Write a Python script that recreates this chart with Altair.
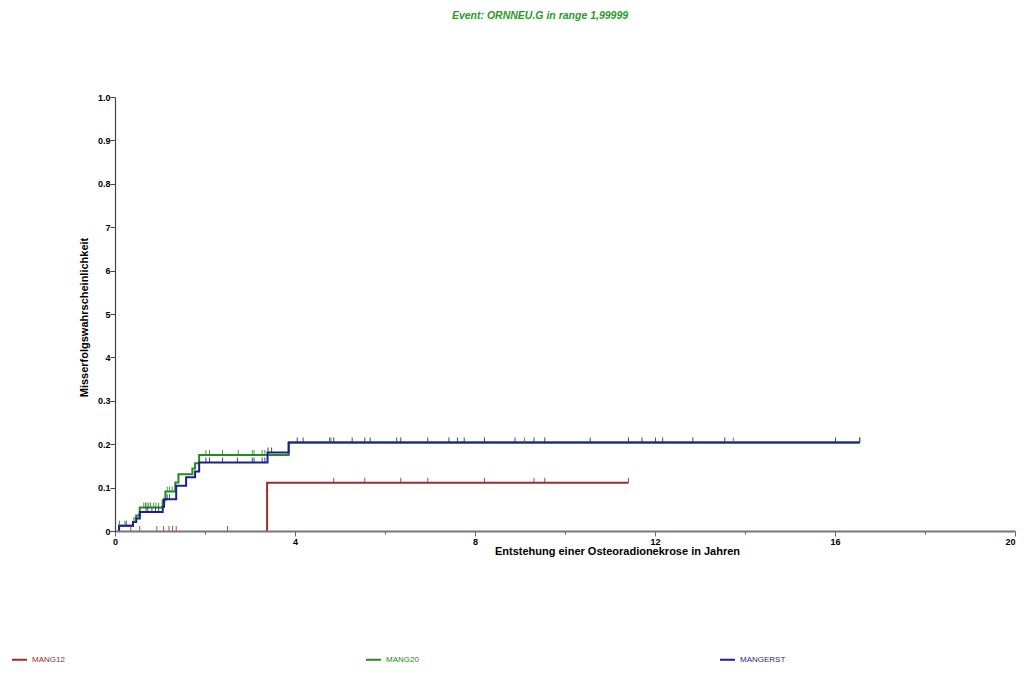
import altair as alt
import pandas as pd

series = ["MANG12", "MANG20", "MANGERST"]
colors = ["#a12b2b", "#228b22", "#1f1f8f"]

# step curves (time in years, cumulative failure probability)
red_t = [0, 3.38, 11.41]
red_p = [0, 0.111, 0.111]

green_t = [0, 0.09, 0.40, 0.47, 0.55, 1.06, 1.12, 1.34, 1.41, 1.72, 1.78, 1.87, 3.86, 16.55]
green_p = [0, 0.012, 0.021, 0.036, 0.054, 0.071, 0.091, 0.112, 0.131, 0.144, 0.156, 0.175, 0.204, 0.204]

blue_t = [0, 0.09, 0.40, 0.47, 0.55, 1.06, 1.09, 1.36, 1.58, 1.78, 1.87, 3.39, 3.86, 16.55]
blue_p = [0, 0.012, 0.021, 0.029, 0.044, 0.056, 0.073, 0.104, 0.124, 0.137, 0.158, 0.181, 0.204, 0.204]

# censoring times
red_cens = [0.35, 0.55, 0.93, 1.08, 1.20, 1.28, 1.36, 2.50, 4.86, 5.55, 6.35, 6.95, 8.21, 9.31, 9.55, 11.41]
green_cens = [0.10, 0.22, 0.42, 0.45, 0.64, 0.68, 0.71, 0.75, 0.79, 0.86, 0.91, 0.97, 1.16, 1.21, 1.27,
              2.02, 2.10, 2.39, 2.74, 3.05, 3.09, 3.27, 3.33, 4.80, 9.10, 13.74, 16.55]
blue_cens = [0.25, 0.69, 0.73, 0.82, 0.90, 0.97, 1.16, 1.21, 2.02, 2.10, 2.39, 2.72, 3.05, 3.09, 3.27, 3.33,
             3.40, 3.48, 4.05, 4.18, 4.77, 4.86, 5.27, 5.55, 5.67, 6.26, 6.35, 6.95, 7.42, 7.61, 7.76, 8.21,
             8.89, 9.31, 9.55, 10.56, 11.41, 11.71, 12.01, 12.17, 12.84, 13.55, 16.01, 16.55]

x_ticks = [0, 2, 4, 6, 8, 10, 12, 14, 16, 18, 20]
x_labels = ["0", "", "4", "", "8", "", "12", "", "16", "", "20"]
y_ticks = [round(i * 0.05, 2) for i in range(21)]
y_labels = ["0", "", "0.1", "", "0.2", "", "0.3", "", "4", "", "5", "", "6", "", "7", "", "0.8", "", "0.9", "", "1.0"]

curves = {"MANG12": (red_t, red_p, red_cens),
          "MANG20": (green_t, green_p, green_cens),
          "MANGERST": (blue_t, blue_p, blue_cens)}

line_rows, cens_rows = [], []
for name, (ts, ps, cs) in curves.items():
    # the zero part of each curve lies on the x axis; the drawn line starts at the first event
    first = next(t for t, p in zip(ts, ps) if p > 0)
    line_rows.append({"series": name, "t": first, "p": 0})
    for t, p in zip(ts, ps):
        if p > 0:
            line_rows.append({"series": name, "t": t, "p": p})
    for c in cs:
        val = 0
        for t, p in zip(ts, ps):
            if t <= c:
                val = p
        cens_rows.append({"series": name, "t": c, "p": val})
lines_df = pd.DataFrame(line_rows)
cens_df = pd.DataFrame(cens_rows)

def lab_expr(vals, labs):
    parts = []
    for v, l in zip(vals, labs):
        parts.append(f"abs(datum.value - {v}) < 0.001 ? '{l}'")
    return " : ".join(parts) + " : ''"

font = "Liberation Sans"
color_scale = alt.Scale(domain=series, range=colors)

x_enc = alt.X("t:Q", scale=alt.Scale(domain=[0, 20], nice=False),
              axis=alt.Axis(values=x_ticks, labelExpr=lab_expr(x_ticks, x_labels),
                            title="Entstehung einer Osteoradionekrose in Jahren",
                            titleX=502, titleY=14, titleAlign="center", titleBaseline="top",
                            grid=False, domainColor="#777", domainWidth=2, tickColor="#666",
                            tickSize={"condition": {"test": "datum.value % 4 != 0", "value": 3}, "value": 5},
                            labelAlign={"condition": {"test": "datum.value >= 20", "value": "right"}, "value": "center"},
                            labelFont=font, labelFontSize=9, labelFontWeight="bold", labelColor="#000",
                            labelPadding=1, labelFlush=False, labelOverlap=False,
                            titleFont=font, titleFontSize=11, titleFontWeight="bold", titleColor="#000",
                            zindex=1))
y_enc = alt.Y("p:Q", scale=alt.Scale(domain=[0, 1], nice=False),
              axis=alt.Axis(values=y_ticks, labelExpr=lab_expr(y_ticks, y_labels),
                            title="Misserfolgswahrscheinlichkeit",
                            titleX=-31, titleY=220, titleAlign="center", titleBaseline="middle", titleAngle=-90,
                            grid=False, domainColor="#444", domainWidth=1.2, tickColor="#444",
                            tickSize={"condition": {"test": "round(datum.value * 100) % 10 != 0", "value": 2}, "value": 5},
                            labelFont=font, labelFontSize=9, labelFontWeight="bold", labelColor="#000",
                            labelPadding=0, labelFlush=False, labelOverlap=False,
                            titleFont=font, titleFontSize=11, titleFontWeight="bold", titleColor="#000",
                            zindex=1))

color_enc = alt.Color("series:N", scale=color_scale,
                      legend=alt.Legend(title=None, orient="none", legendX=-104, legendY=554,
                                        direction="horizontal", columns=3, columnPadding=297,
                                        symbolType="stroke", symbolSize=225, symbolStrokeWidth=2,
                                        labelFont=font, labelFontSize=8, labelOffset=4,
                                        labelColor=alt.ExprRef("datum.label == 'MANG12' ? '#a12b2b' : datum.label == 'MANG20' ? '#228b22' : '#1f1f8f'")))

lines = alt.Chart(lines_df).mark_line(interpolate="step-after", strokeWidth=2).encode(
    x=x_enc, y=y_enc, color=color_enc, order="t:Q",
)
ticks = alt.Chart(cens_df).mark_tick(orient="vertical", size=5, thickness=1, yOffset=-2.5, opacity=0.85).encode(
    x="t:Q", y="p:Q", color=alt.Color("series:N", scale=color_scale, legend=None),
)

chart = alt.layer(lines, ticks).properties(
    width=900, height=434,
    title=alt.TitleParams("Event: ORNNEU.G in range 1,99999", font=font, fontSize=10.5, fontStyle="italic",
                          fontWeight="bold", color="#2a9a2a", anchor="middle", frame="group",
                          offset=72, dx=-25),
    padding={"left": 107, "top": 89, "right": 3, "bottom": 135},
    autosize=alt.AutoSizeParams(type="none"),
).configure_view(stroke=None)

chart.save("out.html", embed_options={"renderer": "svg", "actions": False})
